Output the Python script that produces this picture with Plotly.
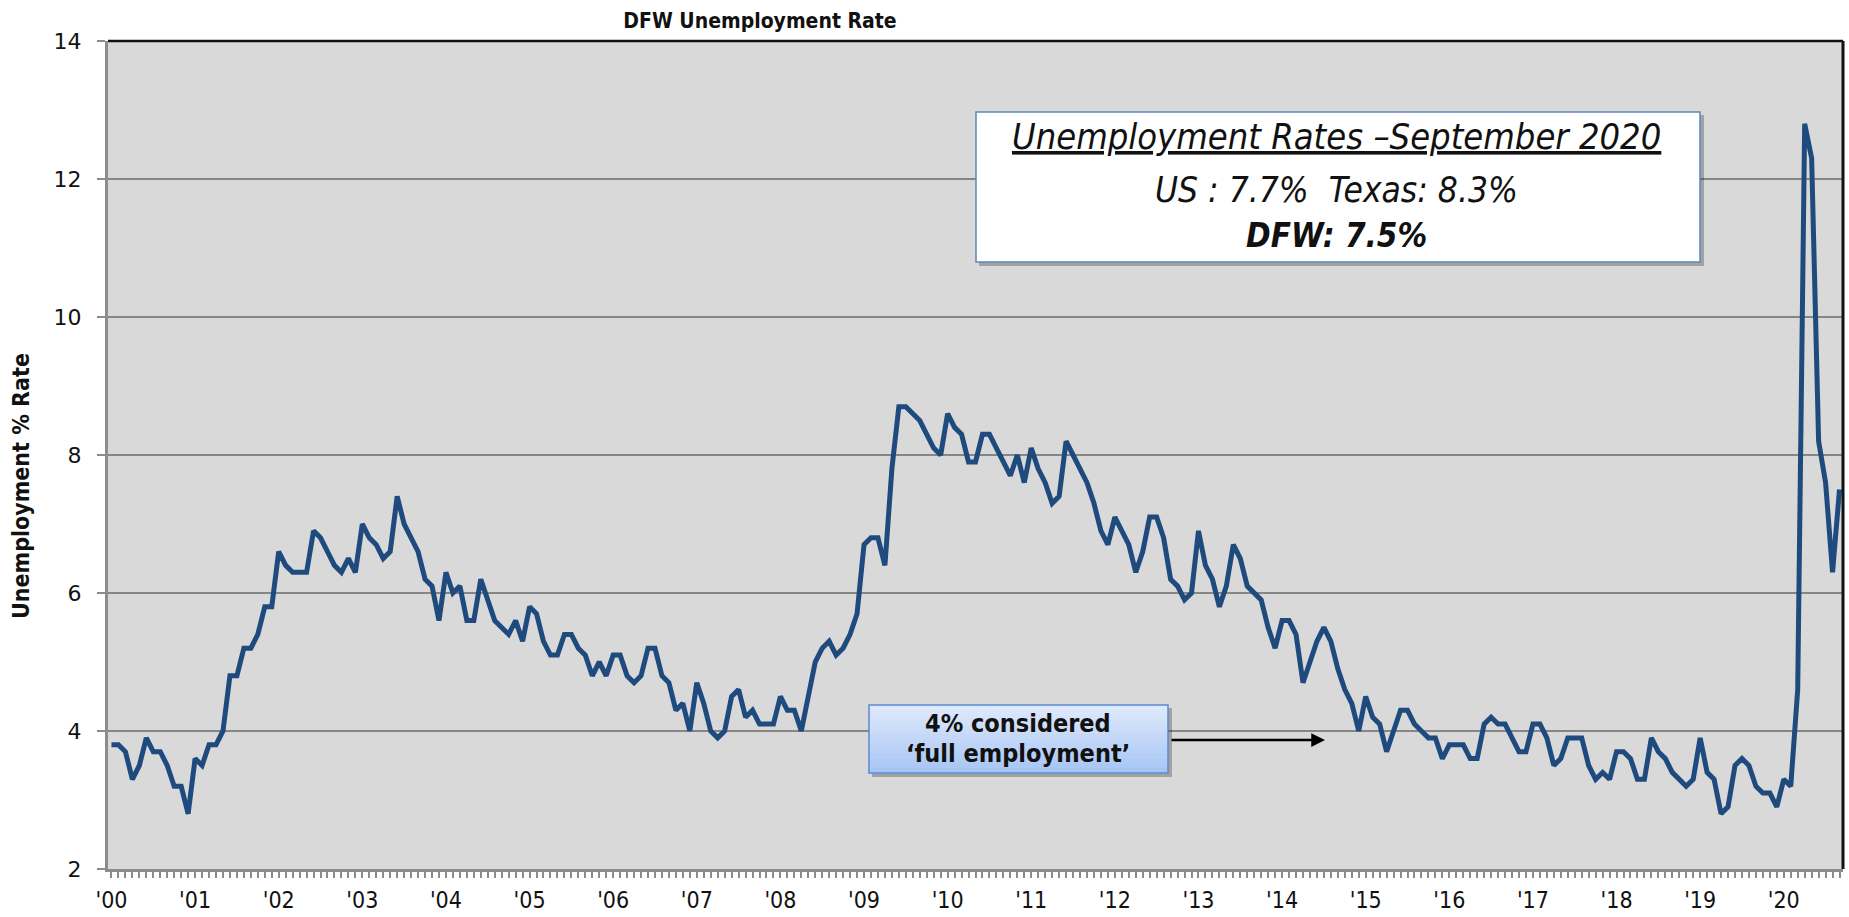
import plotly.graph_objects as go

# ---------------- data ----------------
year_labels = ["'00", "'01", "'02", "'03", "'04", "'05", "'06", "'07", "'08", "'09",
               "'10", "'11", "'12", "'13", "'14", "'15", "'16", "'17", "'18", "'19", "'20"]

rate_2000_2004 = [3.8, 3.8, 3.7, 3.3, 3.5, 3.9, 3.7, 3.7, 3.5, 3.2, 3.2, 2.8,
                  3.6, 3.5, 3.8, 3.8, 4.0, 4.8, 4.8, 5.2, 5.2, 5.4, 5.8, 5.8,
                  6.6, 6.4, 6.3, 6.3, 6.3, 6.9, 6.8, 6.6, 6.4, 6.3, 6.5, 6.3,
                  7.0, 6.8, 6.7, 6.5, 6.6, 7.4, 7.0, 6.8, 6.6, 6.2, 6.1, 5.6,
                  6.3, 6.0, 6.1, 5.6, 5.6, 6.2, 5.9, 5.6, 5.5, 5.4, 5.6, 5.3]
rate_2005_2009 = [5.8, 5.7, 5.3, 5.1, 5.1, 5.4, 5.4, 5.2, 5.1, 4.8, 5.0, 4.8,
                  5.1, 5.1, 4.8, 4.7, 4.8, 5.2, 5.2, 4.8, 4.7, 4.3, 4.4, 4.0,
                  4.7, 4.4, 4.0, 3.9, 4.0, 4.5, 4.6, 4.2, 4.3, 4.1, 4.1, 4.1,
                  4.5, 4.3, 4.3, 4.0, 4.5, 5.0, 5.2, 5.3, 5.1, 5.2, 5.4, 5.7,
                  6.7, 6.8, 6.8, 6.4, 7.8, 8.7, 8.7, 8.6, 8.5, 8.3, 8.1, 8.0]
rate_2010_2014 = [8.6, 8.4, 8.3, 7.9, 7.9, 8.3, 8.3, 8.1, 7.9, 7.7, 8.0, 7.6,
                  8.1, 7.8, 7.6, 7.3, 7.4, 8.2, 8.0, 7.8, 7.6, 7.3, 6.9, 6.7,
                  7.1, 6.9, 6.7, 6.3, 6.6, 7.1, 7.1, 6.8, 6.2, 6.1, 5.9, 6.0,
                  6.9, 6.4, 6.2, 5.8, 6.1, 6.7, 6.5, 6.1, 6.0, 5.9, 5.5, 5.2,
                  5.6, 5.6, 5.4, 4.7, 5.0, 5.3, 5.5, 5.3, 4.9, 4.6, 4.4, 4.0]
rate_2015_2020 = [4.5, 4.2, 4.1, 3.7, 4.0, 4.3, 4.3, 4.1, 4.0, 3.9, 3.9, 3.6,
                  3.8, 3.8, 3.8, 3.6, 3.6, 4.1, 4.2, 4.1, 4.1, 3.9, 3.7, 3.7,
                  4.1, 4.1, 3.9, 3.5, 3.6, 3.9, 3.9, 3.9, 3.5, 3.3, 3.4, 3.3,
                  3.7, 3.7, 3.6, 3.3, 3.3, 3.9, 3.7, 3.6, 3.4, 3.3, 3.2, 3.3,
                  3.9, 3.4, 3.3, 2.8, 2.9, 3.5, 3.6, 3.5, 3.2, 3.1, 3.1, 2.9,
                  3.3, 3.2, 4.6, 12.8, 12.3, 8.2, 7.6, 6.3, 7.5]

rate = rate_2000_2004 + rate_2005_2009 + rate_2010_2014 + rate_2015_2020
months = [f"{2000 + k // 12}-{k % 12 + 1:02d}" for k in range(len(rate))]
month_index = list(range(len(rate)))
tick_text = [year_labels[k // 12] if k % 12 == 0 else "" for k in month_index]
y_ticks = [2, 4, 6, 8, 10, 12, 14]

# ---------------- styling helpers ----------------
PL, PR, PT, PB = 108, 1843, 41, 869
def dx(px):
    return (px - PL) / (PR - PL)
def dy(py):
    return (PB - py) / (PB - PT)

COND = "DejaVu Sans Condensed, Liberation Sans Narrow, DejaVu Sans, sans-serif"
WIDE = "DejaVu Sans, Verdana, sans-serif"

fig = go.Figure()
fig.add_trace(go.Scatter(
    x=month_index, y=rate, mode="lines",
    line=dict(color="#1f4a7e", width=5),
    customdata=months,
    hovertemplate="%{customdata}: %{y}%<extra></extra>",
    showlegend=False,
))

shapes = []
# summary box (shadow + box)
shapes.append(dict(type="rect", xref="x domain", yref="y domain",
                   x0=dx(979), x1=dx(1704), y0=dy(266), y1=dy(115),
                   fillcolor="rgba(0,0,0,0.25)", line=dict(width=0), layer="above"))
shapes.append(dict(type="rect", xref="x domain", yref="y domain",
                   x0=dx(976), x1=dx(1700), y0=dy(262), y1=dy(112),
                   fillcolor="white", line=dict(color="#5b87c5", width=1.5), layer="above"))
# full-employment box: shadow, gradient strips, border
shapes.append(dict(type="rect", xref="x domain", yref="y domain",
                   x0=dx(872), x1=dx(1172), y0=dy(777), y1=dy(708),
                   fillcolor="rgba(0,0,0,0.25)", line=dict(width=0), layer="above"))
top_col = (224, 234, 252)
bot_col = (166, 196, 244)
n_strips = 14
y_top, y_bot = 705, 773
for s in range(n_strips):
    t = (s + 0.5) / n_strips
    c = tuple(round(top_col[j] + (bot_col[j] - top_col[j]) * t) for j in range(3))
    ya = y_top + (y_bot - y_top) * s / n_strips
    yb = y_top + (y_bot - y_top) * (s + 1) / n_strips
    shapes.append(dict(type="rect", xref="x domain", yref="y domain",
                       x0=dx(869), x1=dx(1168), y0=dy(yb + 0.6), y1=dy(ya),
                       fillcolor=f"rgb{c}", line=dict(width=0), layer="above"))
shapes.append(dict(type="rect", xref="x domain", yref="y domain",
                   x0=dx(869), x1=dx(1168), y0=dy(773), y1=dy(705),
                   fillcolor="rgba(0,0,0,0)", line=dict(color="#5b8bd2", width=1.5), layer="above"))
# plot-area frame on top and right
shapes.append(dict(type="line", xref="x domain", yref="y domain",
                   x0=0, x1=1, y0=1, y1=1, line=dict(color="#111111", width=2.5), layer="above"))
shapes.append(dict(type="line", xref="x domain", yref="y domain",
                   x0=1, x1=1, y0=0, y1=1, line=dict(color="#111111", width=3), layer="above"))

annotations = [
    dict(xref="x domain", yref="y domain", x=dx(1336), y=dy(137), showarrow=False,
         text="<i><u>Unemployment Rates \u2013September 2020</u></i>",
         font=dict(family=COND, size=36, color="#111111"), xanchor="center", yanchor="middle",
         borderpad=0),
    dict(xref="x domain", yref="y domain", x=dx(1336), y=dy(190), showarrow=False,
         text="<i>US : 7.7% \u00a0Texas: 8.3%</i>",
         font=dict(family=COND, size=35, color="#111111"), xanchor="center", yanchor="middle",
         borderpad=0),
    dict(xref="x domain", yref="y domain", x=dx(1336), y=dy(235), showarrow=False,
         text="<b><i>DFW: 7.5%</i></b>",
         font=dict(family=COND, size=33, color="#111111"), xanchor="center", yanchor="middle",
         borderpad=0),
    dict(xref="x domain", yref="y domain", x=dx(1018), y=dy(723), showarrow=False,
         text="<b>4% considered</b>",
         font=dict(family=COND, size=25, color="#111111"), xanchor="center", yanchor="middle",
         borderpad=0),
    dict(xref="x domain", yref="y domain", x=dx(1018), y=dy(753), showarrow=False,
         text="<b>\u2018full employment\u2019</b>",
         font=dict(family=COND, size=25, color="#111111"), xanchor="center", yanchor="middle",
         borderpad=0),
    dict(xref="x domain", yref="y domain", x=dx(1325), y=dy(740), text="",
         showarrow=True, ax=-(1325 - 1170), ay=0, arrowhead=2, arrowsize=1.1,
         arrowwidth=2.5, arrowcolor="#000000"),
    dict(xref="x domain", yref="y domain", x=dx(21), y=dy(486), showarrow=False,
         text="<b>Unemployment % Rate</b>", textangle=-90,
         font=dict(family=COND, size=23, color="#111111"), xanchor="center", yanchor="middle"),
]

fig.update_layout(
    width=1849, height=917,
    margin=dict(l=PL, r=1849 - PR, t=PT, b=917 - PB, pad=0, autoexpand=False),
    paper_bgcolor="white", plot_bgcolor="#d9d9d9",
    title=dict(text="<b>DFW Unemployment Rate</b>", xref="container", yref="container",
               x=760 / 1849, y=1 - 21 / 917, xanchor="center", yanchor="middle",
               font=dict(family=COND, size=21, color="#111111")),
    shapes=shapes, annotations=annotations,
    showlegend=False,
)
fig.update_xaxes(
    range=[-0.5, len(rate) - 0.5], tickmode="array", tickvals=month_index, ticktext=tick_text,
    ticks="outside", ticklen=6, tickwidth=1.5, tickcolor="#8c8c8c",
    showline=True, linecolor="#8c8c8c", linewidth=3, showgrid=False, zeroline=False,
    tickfont=dict(family=COND, size=23, color="#111111"), ticklabelstandoff=2,
    automargin=False,
)
fig.update_yaxes(
    range=[2, 14], tickmode="array", tickvals=y_ticks,
    ticktext=[f"{v}\u2002" for v in y_ticks],
    ticks="outside", ticklen=8, tickwidth=1.5, tickcolor="#8c8c8c",
    showline=True, linecolor="#8c8c8c", linewidth=3,
    showgrid=True, gridcolor="#868686", gridwidth=2, zeroline=False,
    tickfont=dict(family=WIDE, size=22, color="#111111"),
    automargin=False,
)

fig.write_html(
    "out.html",
    config={"displayModeBar": False},
    post_script="document.body.style.margin='0';document.body.style.overflow='hidden';"
                "document.documentElement.style.overflow='hidden';",
)
